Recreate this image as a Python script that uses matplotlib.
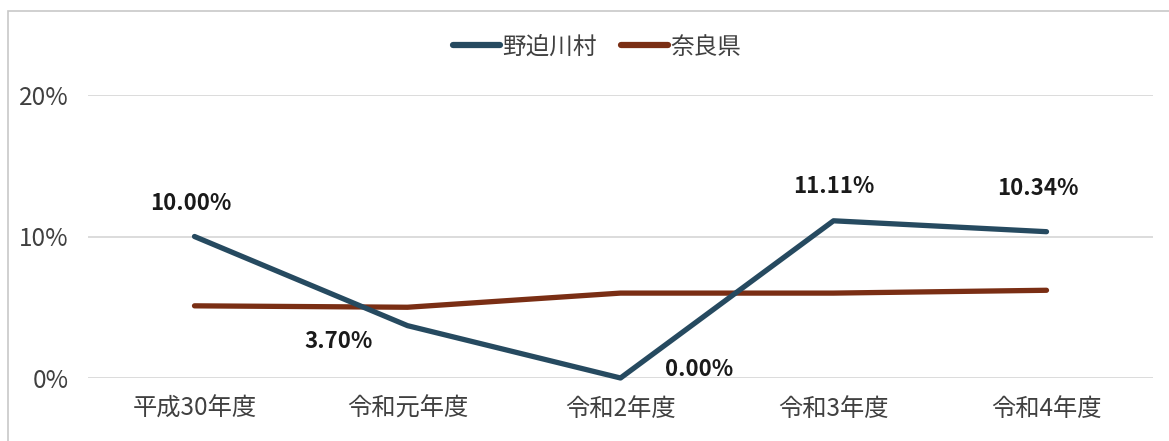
import matplotlib.pyplot as plt
from matplotlib.patches import Rectangle
from matplotlib.ticker import FuncFormatter

plt.rcParams['font.family'] = ['Noto Sans CJK JP', 'DejaVu Sans']

years = ['平成30年度', '令和元年度', '令和2年度', '令和3年度', '令和4年度']
nosegawa = [10.00, 3.70, 0.00, 11.11, 10.34]
nara = [5.1, 5.0, 6.0, 6.0, 6.2]

# label offsets in pixels (dx, dy) and alignment per point
label_pos = [(-4, 33, 'center'), (-35, -16, 'right'), (45, 8, 'left'),
             (0, 34, 'center'), (-9, 43, 'center')]

blue = '#264A60'
brown = '#7A2E14'

fig = plt.figure(figsize=(11.69, 4.41), dpi=100)
ax = fig.add_axes([88 / 1169, 63 / 441, 1065 / 1169, 283 / 441])

x = range(len(years))
ax.plot(x, nosegawa, color=blue, lw=3.8, solid_capstyle='round',
        label='野迫川村', clip_on=False, zorder=3)
ax.plot(x, nara, color=brown, lw=3.8, solid_capstyle='round',
        label='奈良県', clip_on=False, zorder=2)

for i, v in enumerate(nosegawa):
    dx, dy, ha = label_pos[i]
    ax.annotate(f'{v:.2f}%', (i, v), xytext=(dx, dy), textcoords='offset pixels',
                ha=ha, va='center', fontsize=16, fontweight='bold',
                color='#1a1a1a', family=['Noto Sans CJK JP', 'DejaVu Sans'])

ax.set_xlim(-0.5, len(years) - 0.5)
ax.set_ylim(0, 20)
ax.set_yticks([0, 10, 20])
ax.yaxis.set_major_formatter(FuncFormatter(lambda v, p: f'{v:.0f}%'))
ax.set_xticks(list(x))
ax.set_xticklabels(years)
ax.tick_params(axis='both', length=0, labelsize=17.5, colors='#404040')
ax.tick_params(axis='x', pad=13)
ax.tick_params(axis='y', pad=14)
ax.grid(axis='y', color='#d9d9d9', lw=1.3)
ax.set_axisbelow(True)
for s in ax.spines.values():
    s.set_visible(False)

leg = fig.legend(loc='center', bbox_to_anchor=(597 / 1169, 1 - 47 / 441),
                 ncol=2, frameon=False, fontsize=17, handlelength=2.0,
                 handletextpad=0.1, columnspacing=1.0)
for line in leg.get_lines():
    line.set_linewidth(4.5)
for t in leg.get_texts():
    t.set_color('#404040')

# outer chart border
fig.patches.append(Rectangle((8 / 1169, -0.05), 1.2, 1 - 11 / 441 + 0.05,
                             transform=fig.transFigure, fill=False,
                             edgecolor='#c8c8c8', lw=1.2))

fig.savefig('out.png', dpi=100)
